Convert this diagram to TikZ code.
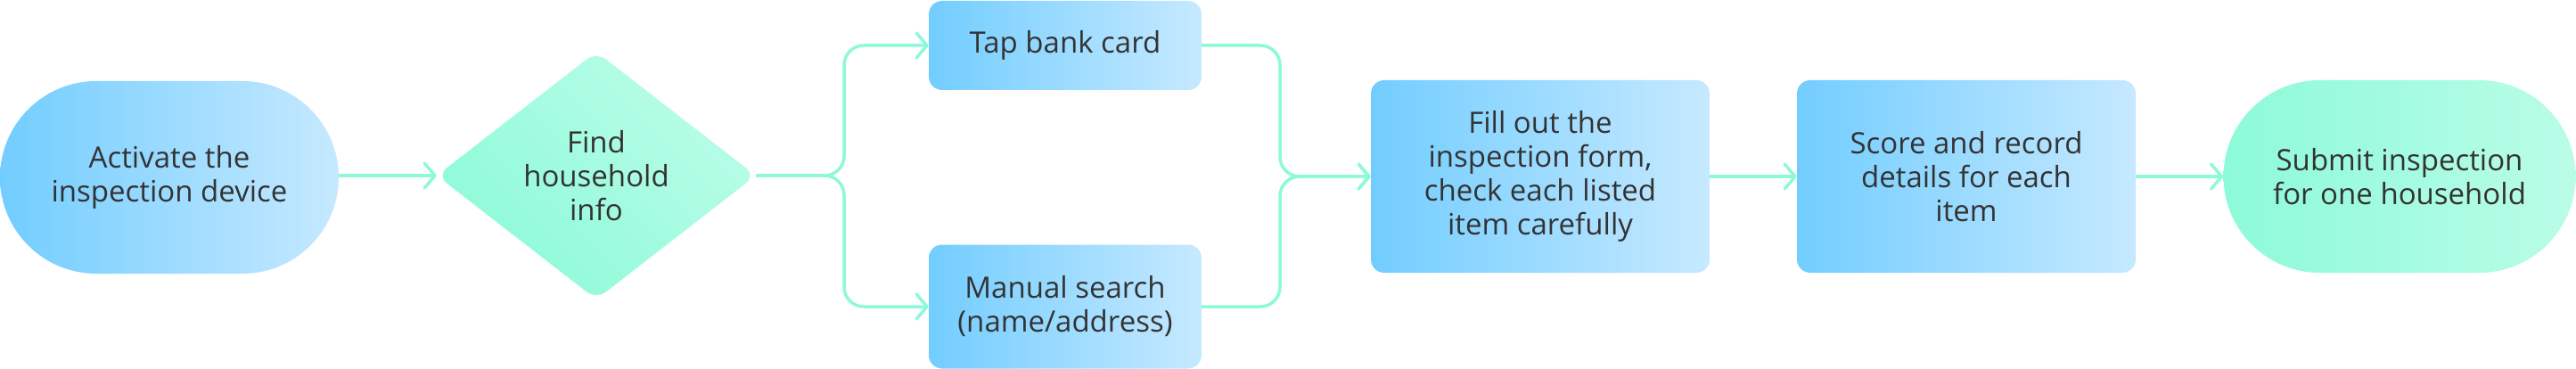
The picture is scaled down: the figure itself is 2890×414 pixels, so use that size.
\documentclass[tikz,border=0pt]{standalone}
\usepackage{fontspec}
\setmainfont{Open Sans}
\usetikzlibrary{shapes.geometric,arrows.meta}
\definecolor{bA}{HTML}{72CDFF}
\definecolor{bB}{HTML}{A5D1FE}
\definecolor{bC}{HTML}{C6E9FF}
\definecolor{gA}{HTML}{8DFBD8}
\definecolor{gB}{HTML}{A1FCEA}
\definecolor{gC}{HTML}{BAFCE7}
\definecolor{conn}{HTML}{8EF9D9}
\definecolor{txt}{HTML}{333333}
\begin{document}
\begin{tikzpicture}[x=1pt,y=-1pt,
 base/.style={inner sep=0pt, align=center, text=txt, font=\fontsize{33}{38}\selectfont},
 bluefill/.style={left color=bA, middle color=bB, right color=bC},
 greenfill/.style={left color=gA, middle color=gB, right color=gC},
 pill/.style={base, rectangle, rounded corners=108pt, minimum height=216pt},
 box/.style={base, rectangle, rounded corners=15pt},
 decision/.style={base, diamond, rounded corners=14pt, top color=gC, middle color=gB, bottom color=gA, shading angle=-45},
 flow/.style={draw=conn, line width=3.5pt, rounded corners=22pt, -{Straight Barb[length=12pt,width=28pt,line width=3.5pt,round]}}
]
\useasboundingbox (0,0) rectangle (2890,414);
\node[pill, bluefill, minimum width=380pt] (act) at (190,199) {Activate the\\inspection device};
\node[decision, minimum width=358pt, minimum height=278pt, aspect=1.28] (dia) at (669,197) {Find\\household\\info};
\node[box, bluefill, minimum width=306pt, minimum height=100pt] (tap) at (1195,51) {Tap bank card};
\node[box, bluefill, minimum width=306pt, minimum height=139pt] (man) at (1195,344) {Manual search\\(name/address)};
\node[box, bluefill, minimum width=380pt, minimum height=216pt] (fill) at (1728,198) {Fill out the\\inspection form,\\check each listed\\item carefully};
\node[box, bluefill, minimum width=380pt, minimum height=216pt] (score) at (2206,198) {Score and record\\details for each\\item};
\node[pill, greenfill, minimum width=395pt] (sub) at (2692,198) {Submit inspection\\for one household};
\coordinate (split) at (947,197);
\coordinate (merge) at (1436,198);
\draw[flow] (act.east |- dia.west) -- (dia.west);
\draw[flow] (dia.east) -- (split) |- (tap.west);
\draw[flow] (dia.east) -- (split) |- (man.west);
\draw[flow] (tap.east) -| (merge) -- (fill.west);
\draw[flow] (man.east) -| (merge) -- (fill.west);
\draw[flow] (fill) -- (score);
\draw[flow] (score) -- (sub);
\end{tikzpicture}
\end{document}
